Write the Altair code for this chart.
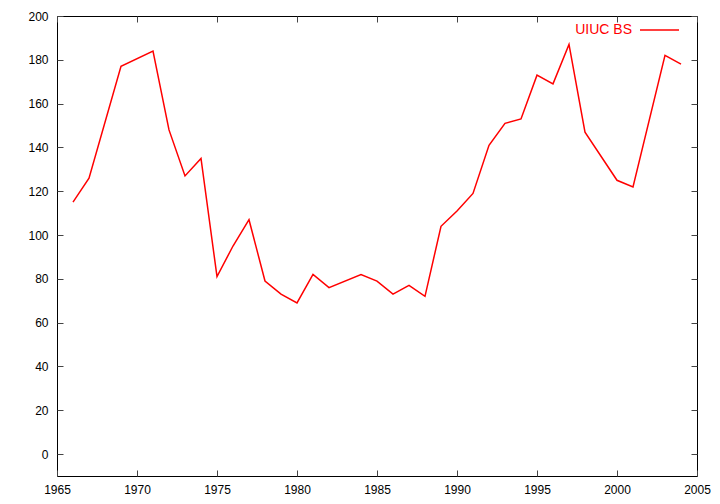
import altair as alt
import pandas as pd

years = [1966, 1967, 1969, 1971, 1972, 1973, 1974, 1975, 1976, 1977, 1978, 1979,
         1980, 1981, 1982, 1984, 1985, 1986, 1987, 1988, 1989, 1990, 1991, 1992,
         1993, 1994, 1995, 1996, 1997, 1998, 2000, 2001, 2003, 2004]
values = [115, 126, 177, 184, 148, 127, 135, 81, 95, 107, 79, 73,
          69, 82, 76, 82, 79, 73, 77, 72, 104, 111, 119, 141,
          151, 153, 173, 169, 187, 147, 125, 122, 182, 178]
x_ticks = [1965, 1970, 1975, 1980, 1985, 1990, 1995, 2000, 2005]
y_ticks = [0, 20, 40, 60, 80, 100, 120, 140, 160, 180, 200]
series_name = "UIUC BS"

W, H = 640, 460
X0, X1 = 1965, 2005
Y0, Y1 = -10, 200
TICK_PX = 6
TICK_COLOR = "#444444"

df = pd.DataFrame({"year": years, "value": values})

xs = alt.Scale(domain=[X0, X1], nice=False, zero=False)
ys = alt.Scale(domain=[Y0, Y1], nice=False, zero=False)
font = "Liberation Sans"


def tick_axis(vals, orient, offset):
    # axis carrying only inward tick marks (no labels, no domain line)
    return alt.Axis(values=vals, orient=orient, offset=offset, title=None,
                    grid=False, labels=False, domain=False, ticks=True,
                    tickSize=TICK_PX, tickColor=TICK_COLOR, tickWidth=1)


line = alt.Chart(df).mark_line(color="#ff0000", strokeWidth=1.5).encode(
    x=alt.X("year:Q", scale=xs,
            axis=alt.Axis(values=x_ticks, format="d", title=None, grid=False,
                          orient="bottom", ticks=False, domain=False,
                          labelFont=font, labelFontSize=12, labelColor="#000000",
                          labelPadding=8, labelFlush=False)),
    y=alt.Y("value:Q", scale=ys,
            axis=alt.Axis(values=y_ticks, title=None, grid=False, orient="left",
                          ticks=False, domain=False, labelFont=font,
                          labelFontSize=12, labelColor="#000000", labelPadding=9)),
)

# bottom edge (ticks pointing up) and left edge (ticks pointing right)
ticks_a = alt.Chart(df).mark_line(strokeOpacity=0).encode(
    x=alt.X("year:Q", scale=xs, axis=tick_axis(x_ticks, "top", -H)),
    y=alt.Y("value:Q", scale=ys, axis=tick_axis(y_ticks, "right", -W)),
)
# top edge (ticks pointing down) and right edge (ticks pointing left)
ticks_b = alt.Chart(df).mark_line(strokeOpacity=0).encode(
    x=alt.X("year:Q", scale=xs, axis=tick_axis(x_ticks, "bottom", -H)),
    y=alt.Y("value:Q", scale=ys, axis=tick_axis(y_ticks, "left", -W)),
)

leg = pd.DataFrame({"name": [series_name]})
leg_text = alt.Chart(leg).mark_text(color="#ff0000", align="right", baseline="middle",
                                    font=font, fontSize=14).encode(
    text="name:N", x=alt.value(575), y=alt.value(14))
leg_line = alt.Chart(leg).mark_rule(color="#ff0000", strokeWidth=1.5).encode(
    x=alt.value(583), x2=alt.value(622), y=alt.value(14))

chart = alt.layer(line, ticks_a, ticks_b, leg_text, leg_line).resolve_axis(
    x="independent", y="independent"
).properties(
    width=W, height=H,
    autosize=alt.AutoSizeParams(type="none"),
    padding={"left": 49, "top": 8, "right": 15, "bottom": 20},
).configure_view(stroke="#000000", strokeWidth=1)

chart.save("out.html", embed_options={"renderer": "svg", "actions": False})
